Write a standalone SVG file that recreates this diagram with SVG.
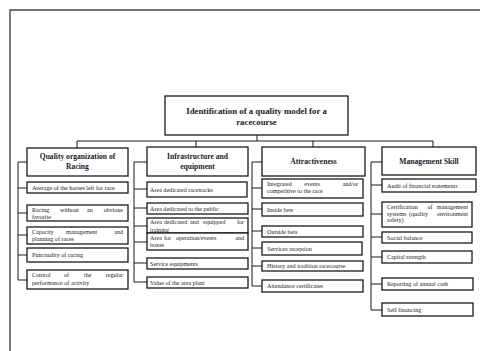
<svg xmlns="http://www.w3.org/2000/svg" width="480" height="351" viewBox="0 0 480 351">
<style>
.box{fill:#fff;stroke:#1a1a1a;stroke-width:1.3}
.ln{fill:none;stroke:#1a1a1a;stroke-width:1}
.frame{fill:none;stroke:#444;stroke-width:1.4}
text{font-family:"Liberation Serif","Times New Roman",serif;fill:#1a1a2a}
.t{font-size:8.8px;font-weight:bold;text-anchor:middle}
.h{font-size:7.6px;font-weight:bold;text-anchor:middle}
.c{font-size:6.1px}
.e{text-anchor:end}
.m{text-anchor:middle}
</style>
<rect width="480" height="351" fill="#fff"/>
<path class="frame" d="M10,351 V10 H480"/>
<g id="connectors">
<path class="ln" d="M257,135 V141 M77,141 H433 M77,141 V148 M196,141 V147 M313,141 V147 M433,141 V147"/>
<path class="ln" d="M27,162 H18 V280 H27 M18,188 H27 M18,213 H27 M18,235 H27 M18,255 H27"/>
<path class="ln" d="M147,162 H134 V282 H147 M134,189 H147 M134,208 H147 M134,226 H147 M134,242 H147 M134,263 H147"/>
<path class="ln" d="M262,162 H252 V286 H262 M252,188 H262 M252,209 H262 M252,231 H262 M252,248 H262 M252,266 H262"/>
<path class="ln" d="M382,162 H371 V310 H382 M371,185 H382 M371,214 H382 M371,237 H382 M371,257 H382 M371,284 H382"/>
</g>
<g id="root"><rect class="box" x="165" y="96" width="183" height="39"/><text class="t" x="256.5" y="114">Identification of a quality model for a</text><text class="t" x="256.5" y="125">racecourse</text></g>
<g id="quality"><rect class="box" x="27" y="148" width="101" height="28"/><text class="h" x="77.5" y="159">Quality organization of</text><text class="h" x="77.5" y="169">Racing</text></g>
<g id="q1"><rect class="box" x="27" y="182" width="101" height="11"/><text class="c" x="32" y="190">Average of the horses left for race</text></g>
<g id="q2"><rect class="box" x="27" y="205" width="101" height="16"/><text class="c" y="211.5"><tspan x="32">Racing</tspan><tspan x="60">without</tspan><tspan x="87">an</tspan></text><text class="c e" x="123" y="211.5">obvious</text><text class="c" x="32" y="218.5">favorite</text></g>
<g id="q3"><rect class="box" x="27" y="227" width="101" height="17"/><text class="c" y="233.5"><tspan x="32">Capacity</tspan><tspan x="66">management</tspan></text><text class="c e" x="123" y="233.5">and</text><text class="c" x="32" y="241">planning of races</text></g>
<g id="q4"><rect class="box" x="27" y="248" width="101" height="14"/><text class="c" x="32" y="257">Punctuality of racing</text></g>
<g id="q5"><rect class="box" x="27" y="270" width="101" height="19"/><text class="c" y="277"><tspan x="32">Control</tspan><tspan x="64">of</tspan><tspan x="84">the</tspan></text><text class="c e" x="123" y="277">regular</text><text class="c" x="32" y="285">performance of activity</text></g>
<g id="infra"><rect class="box" x="147" y="147" width="101" height="29"/><text class="h" x="197.5" y="159">Infrastructure and</text><text class="h" x="197.5" y="169">equipment</text></g>
<g id="i1"><rect class="box" x="147" y="182" width="100" height="15"/><text class="c" x="150" y="191.5">Area dedicated racetracks</text></g>
<g id="i2"><rect class="box" x="147" y="203" width="101" height="11"/><text class="c" x="150" y="210.5">Area dedicated to the public</text></g>
<g id="i3"><rect class="box" x="147" y="218" width="101" height="15"/><text class="c" y="223.5"><tspan x="150">Area</tspan><tspan x="164">dedicated</tspan><tspan x="190">and</tspan><tspan x="203">equipped</tspan></text><text class="c e" x="244" y="223.5">for</text><text class="c" x="150" y="231.5">training</text></g>
<g id="i4"><rect class="box" x="147" y="233" width="101" height="17"/><text class="c" y="240"><tspan x="150">Area</tspan><tspan x="164">for</tspan><tspan x="176">operation/events</tspan></text><text class="c e" x="244" y="240">and</text><text class="c" x="150" y="247">boxes</text></g>
<g id="i5"><rect class="box" x="147" y="258" width="101" height="11"/><text class="c" x="150" y="265.5">Service equipments</text></g>
<g id="i6"><rect class="box" x="147" y="277" width="101" height="11"/><text class="c" x="150" y="284.5">Value of the area plant</text></g>
<g id="attr"><rect class="box" x="262" y="147" width="103" height="29"/><text class="h" x="313.5" y="164">Attractiveness</text></g>
<g id="a1"><rect class="box" x="262" y="179" width="101" height="19"/><text class="c" x="267" y="186">Integrated</text><text class="c m" x="312" y="186">events</text><text class="c e" x="358" y="186">and/or</text><text class="c" x="267" y="193">competitive to the race</text></g>
<g id="a2"><rect class="box" x="262" y="203" width="101" height="13"/><text class="c" x="267" y="211.5">Inside bets</text></g>
<g id="a3"><rect class="box" x="262" y="226" width="101" height="11"/><text class="c" x="267" y="233.5">Outside bets</text></g>
<g id="a4"><rect class="box" x="262" y="242" width="100" height="13"/><text class="c" x="267" y="250.5">Services reception</text></g>
<g id="a5"><rect class="box" x="262" y="261" width="101" height="10"/><text class="c" x="267" y="268">History and tradition racecourse</text></g>
<g id="a6"><rect class="box" x="262" y="280" width="101" height="12"/><text class="c" x="267" y="288">Attendance certificates</text></g>
<g id="mgmt"><rect class="box" x="382" y="147" width="94" height="28"/><text class="h" x="429" y="164">Management Skill</text></g>
<g id="m1"><rect class="box" x="382" y="179" width="94" height="13"/><text class="c" x="387" y="187.5">Audit of financial statements</text></g>
<g id="m2"><rect class="box" x="382" y="202" width="90" height="25"/><text class="c" x="387" y="209">Certification</text><text class="c m" x="430" y="209">of</text><text class="c e" x="468" y="209">management</text><text class="c" y="215.5"><tspan x="387">systems</tspan><tspan x="409">(quality</tspan></text><text class="c e" x="468" y="215.5">environment</text><text class="c" x="387" y="222">safety)</text></g>
<g id="m3"><rect class="box" x="382" y="232" width="90" height="11"/><text class="c" x="387" y="239.5">Social balance</text></g>
<g id="m4"><rect class="box" x="382" y="251" width="90" height="12"/><text class="c" x="387" y="259">Capital strength</text></g>
<g id="m5"><rect class="box" x="382" y="278" width="91" height="12"/><text class="c" x="387" y="286">Reporting of annual cash</text></g>
<g id="m6"><rect class="box" x="382" y="303" width="91" height="13"/><text class="c" x="387" y="311.5">Self financing</text></g>
</svg>
